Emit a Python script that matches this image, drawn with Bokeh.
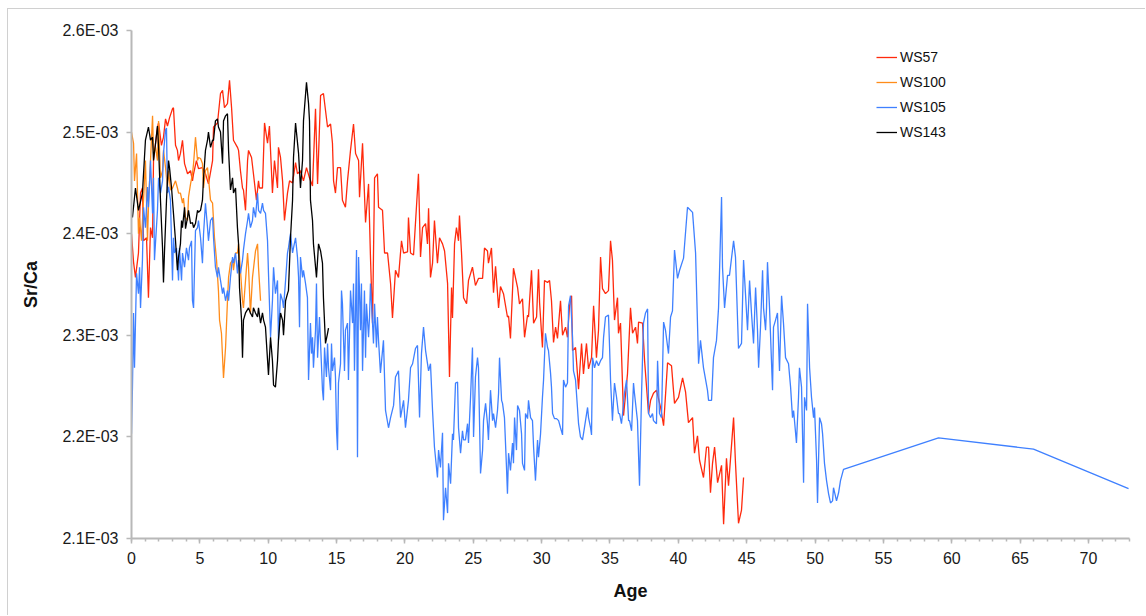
from bokeh.plotting import figure
from bokeh.models import (FixedTicker, CustomJSTickFormatter, Legend, LegendItem,
                          Range1d)
from bokeh.embed import file_html
from bokeh.resources import INLINE

# Sr/Ca values below are listed in units of 1e-3
SCALE = 1e-3

# ---------------- WS57 ----------------
ws57_age = [
    0.00, 0.15, 0.29, 0.51, 0.66, 0.80, 0.88, 1.10, 1.24, 1.39,
    1.54, 1.61, 1.90, 1.98, 2.19, 2.34, 2.49, 2.63, 2.78, 3.00,
    3.07, 3.22, 3.36, 3.44, 3.58, 3.73, 3.88, 4.10, 4.32, 4.46,
    4.54, 4.75, 4.90, 5.19, 5.41, 5.63, 5.93, 6.00, 6.29, 6.51,
    6.66, 6.80, 7.02, 7.17, 7.32, 7.46, 7.75, 7.83, 7.97, 8.12,
    8.19, 8.34, 8.49, 8.56, 8.78, 8.92, 9.14, 9.29, 9.36, 9.58,
    9.73, 9.95, 10.09, 10.31, 10.46, 10.68, 10.75, 10.90, 11.05, 11.19,
    11.41, 11.56, 11.78, 12.00, 12.14, 12.36, 12.58, 12.80, 13.02, 13.24,
    13.46, 13.61, 13.83, 14.04, 14.34, 14.56, 14.70, 14.78, 14.92, 15.07,
    15.29, 15.43, 15.65, 15.80, 16.02, 16.24, 16.39, 16.61, 16.68, 16.90,
    17.12, 17.34, 17.48, 17.63, 17.78, 17.99, 18.07, 18.36, 18.51, 18.73,
    18.95, 19.09, 19.31, 19.53, 19.75, 19.90, 20.19, 20.26, 20.41, 20.63,
    20.99, 21.14, 21.29, 21.51, 21.65, 21.73, 21.87, 22.02, 22.16, 22.38,
    22.53, 22.75, 22.90, 23.12, 23.26, 23.41, 23.48, 23.63, 23.77, 23.92,
    23.99, 24.14, 24.29, 24.51, 24.65, 24.94, 25.16, 25.38, 25.68, 25.82,
    26.04, 26.11, 26.33, 26.48, 26.63, 26.85, 26.99, 27.21, 27.50, 27.58,
    27.72, 27.94, 28.24, 28.38, 28.60, 28.75, 28.97, 29.04, 29.26, 29.41,
    29.63, 29.77, 29.85, 30.06, 30.21, 30.43, 30.58, 30.72, 30.87, 31.02,
    31.16, 31.38, 31.53, 31.75, 31.89, 32.04, 32.19, 32.26, 32.48, 32.70,
    32.92, 33.06, 33.28, 33.43, 33.65, 33.80, 34.01, 34.16, 34.31, 34.45,
    34.67, 34.89, 35.04, 35.18, 35.33, 35.55, 35.62, 35.77, 35.99, 36.28,
    36.50, 36.65, 36.87, 37.01, 37.09, 37.38, 37.53, 37.82, 37.97, 38.18,
    38.40, 38.70, 38.92, 39.21, 39.50, 39.72, 40.01, 40.31, 40.53, 40.74,
    41.04, 41.18, 41.40, 41.55, 41.84, 42.06, 42.21, 42.35, 42.50, 42.65,
    42.87, 43.16, 43.31, 43.52, 43.67, 44.04, 44.18, 44.40, 44.62, 44.77,
]
ws57_srca = [
    2.400, 2.372, 2.357, 2.381, 2.440, 2.445, 2.393, 2.396, 2.337, 2.406,
    2.396, 2.472, 2.505, 2.509, 2.487, 2.495, 2.513, 2.506, 2.514, 2.523,
    2.524, 2.487, 2.482, 2.472, 2.479, 2.492, 2.469, 2.459, 2.462, 2.452,
    2.459, 2.472, 2.464, 2.465, 2.459, 2.449, 2.472, 2.505, 2.509, 2.538,
    2.541, 2.524, 2.528, 2.551, 2.524, 2.492, 2.485, 2.482, 2.462, 2.445,
    2.443, 2.423, 2.472, 2.482, 2.475, 2.459, 2.433, 2.452, 2.445, 2.445,
    2.509, 2.489, 2.506, 2.440, 2.472, 2.445, 2.485, 2.475, 2.452, 2.413,
    2.440, 2.452, 2.450, 2.470, 2.459, 2.462, 2.452, 2.465, 2.455, 2.447,
    2.523, 2.449, 2.536, 2.538, 2.505, 2.508, 2.489, 2.452, 2.440, 2.465,
    2.465, 2.433, 2.426, 2.452, 2.482, 2.508, 2.479, 2.472, 2.436, 2.489,
    2.411, 2.449, 2.377, 2.312, 2.455, 2.459, 2.426, 2.423, 2.381, 2.381,
    2.351, 2.317, 2.364, 2.357, 2.393, 2.381, 2.382, 2.416, 2.381, 2.379,
    2.459, 2.377, 2.406, 2.410, 2.390, 2.425, 2.357, 2.371, 2.413, 2.371,
    2.396, 2.390, 2.383, 2.351, 2.259, 2.347, 2.317, 2.390, 2.406, 2.393,
    2.418, 2.381, 2.337, 2.331, 2.354, 2.367, 2.349, 2.356, 2.356, 2.386,
    2.383, 2.371, 2.386, 2.342, 2.368, 2.327, 2.348, 2.341, 2.318, 2.319,
    2.297, 2.366, 2.347, 2.331, 2.336, 2.298, 2.320, 2.318, 2.364, 2.312,
    2.318, 2.365, 2.332, 2.288, 2.354, 2.352, 2.354, 2.334, 2.293, 2.308,
    2.297, 2.334, 2.300, 2.308, 2.298, 2.329, 2.339, 2.285, 2.288, 2.247,
    2.292, 2.262, 2.292, 2.267, 2.278, 2.329, 2.278, 2.305, 2.377, 2.346,
    2.341, 2.344, 2.393, 2.374, 2.315, 2.337, 2.302, 2.312, 2.221, 2.262,
    2.327, 2.302, 2.308, 2.292, 2.313, 2.312, 2.275, 2.223, 2.236, 2.243,
    2.246, 2.229, 2.211, 2.273, 2.270, 2.233, 2.239, 2.258, 2.244, 2.214,
    2.219, 2.184, 2.201, 2.177, 2.160, 2.190, 2.190, 2.145, 2.174, 2.190,
    2.155, 2.172, 2.114, 2.179, 2.152, 2.219, 2.174, 2.115, 2.128, 2.160,
]

# ---------------- WS100 ----------------
ws100_age = [
    0.00, 0.15, 0.22, 0.37, 0.51, 0.59, 0.73, 0.88, 1.02, 1.17,
    1.24, 1.39, 1.54, 1.61, 1.76, 1.90, 1.98, 2.12, 2.27, 2.34,
    2.49, 2.63, 2.71, 2.85, 3.00, 3.22, 3.36, 3.44, 3.58, 3.73,
    3.80, 3.95, 4.10, 4.17, 4.32, 4.46, 4.54, 4.68, 4.83, 4.90,
    5.05, 5.19, 5.27, 5.41, 5.56, 5.78, 5.93, 6.07, 6.22, 6.36,
    6.44, 6.58, 6.73, 6.88, 7.02, 7.10, 7.24, 7.39, 7.46, 7.61,
    7.75, 7.83, 7.97, 8.12, 8.19, 8.34, 8.49, 8.56, 8.70, 8.85,
    9.07, 9.22, 9.29, 9.44,
]
ws100_srca = [
    2.500, 2.489, 2.452, 2.479, 2.400, 2.416, 2.393, 2.433, 2.472, 2.393,
    2.426, 2.472, 2.516, 2.479, 2.485, 2.472, 2.511, 2.455, 2.462, 2.482,
    2.465, 2.445, 2.462, 2.443, 2.445, 2.452, 2.445, 2.440, 2.440, 2.430,
    2.435, 2.416, 2.413, 2.436, 2.449, 2.459, 2.469, 2.495, 2.472, 2.475,
    2.474, 2.469, 2.445, 2.462, 2.465, 2.433, 2.430, 2.396, 2.374, 2.344,
    2.315, 2.302, 2.258, 2.288, 2.334, 2.357, 2.371, 2.374, 2.364, 2.381,
    2.381, 2.390, 2.364, 2.334, 2.327, 2.354, 2.381, 2.367, 2.321, 2.357,
    2.383, 2.390, 2.367, 2.334,
]

# ---------------- WS105 ----------------
ws105_age = [
    0.00, 0.07, 0.15, 0.22, 0.37, 0.51, 0.59, 0.66, 0.80, 0.88,
    1.02, 1.17, 1.24, 1.39, 1.54, 1.61, 1.68, 1.90, 1.98, 2.12,
    2.27, 2.34, 2.49, 2.56, 2.63, 2.71, 2.85, 3.00, 3.07, 3.15,
    3.29, 3.44, 3.51, 3.66, 3.73, 3.88, 4.02, 4.17, 4.24, 4.39,
    4.46, 4.54, 4.68, 4.83, 4.90, 5.05, 5.19, 5.27, 5.41, 5.56,
    5.63, 5.78, 5.93, 6.00, 6.14, 6.29, 6.36, 6.51, 6.66, 6.73,
    6.88, 7.02, 7.10, 7.24, 7.39, 7.46, 7.61, 7.75, 7.83, 7.97,
    8.12, 8.19, 8.34, 8.49, 8.56, 8.70, 8.85, 8.92, 9.07, 9.22,
    9.29, 9.44, 9.58, 9.66, 9.80, 9.95, 10.02, 10.17, 10.31, 10.39,
    10.53, 10.68, 10.75, 10.90, 11.05, 11.12, 11.27, 11.41, 11.48, 11.63,
    11.78, 11.85, 12.00, 12.14, 12.22, 12.29, 12.36, 12.51, 12.58, 12.73,
    12.87, 12.95, 13.09, 13.17, 13.24, 13.31, 13.46, 13.53, 13.61, 13.75,
    13.83, 13.97, 14.04, 14.12, 14.26, 14.34, 14.41, 14.56, 14.63, 14.70,
    14.85, 14.92, 15.00, 15.07, 15.14, 15.29, 15.36, 15.43, 15.58, 15.65,
    15.80, 15.87, 16.02, 16.17, 16.24, 16.31, 16.46, 16.53, 16.61, 16.75,
    16.82, 16.90, 17.04, 17.12, 17.19, 17.34, 17.41, 17.48, 17.63, 17.70,
    17.78, 17.92, 17.99, 18.07, 18.21, 18.43, 18.58, 18.80, 18.95, 19.17,
    19.31, 19.53, 19.68, 19.90, 20.04, 20.26, 20.41, 20.56, 20.77, 20.92,
    21.07, 21.21, 21.36, 21.51, 21.73, 21.87, 22.02, 22.16, 22.38, 22.46,
    22.60, 22.75, 22.82, 22.97, 23.12, 23.19, 23.34, 23.48, 23.55, 23.70,
    23.85, 23.92, 24.07, 24.21, 24.29, 24.43, 24.58, 24.65, 24.80, 24.94,
    25.02, 25.16, 25.31, 25.38, 25.53, 25.68, 25.75, 25.90, 26.04, 26.11,
    26.26, 26.41, 26.48, 26.63, 26.77, 26.85, 26.92, 27.07, 27.14, 27.28,
    27.43, 27.50, 27.58, 27.72, 27.87, 27.94, 28.02, 28.16, 28.24, 28.38,
    28.53, 28.60, 28.75, 28.82, 28.97, 29.04, 29.19, 29.33, 29.41, 29.55,
    29.70, 29.77, 29.92, 30.06, 30.14, 30.28, 30.43, 30.50, 30.65, 30.72,
    30.80, 30.94, 31.09, 31.24, 31.38, 31.53, 31.60, 31.75, 31.89, 31.97,
    32.11, 32.26, 32.33, 32.48, 32.62, 32.70, 32.84, 32.99, 33.06, 33.21,
    33.36, 33.43, 33.58, 33.65, 33.72, 33.87, 34.01, 34.16, 34.31, 34.45,
    34.53, 34.67, 34.89, 34.97, 35.04, 35.18, 35.33, 35.48, 35.62, 35.70,
    35.84, 35.92, 36.06, 36.21, 36.36, 36.43, 36.58, 36.72, 36.79, 37.01,
    37.16, 37.31, 37.45, 37.60, 37.75, 37.82, 37.97, 38.11, 38.18, 38.40,
    38.48, 38.62, 38.77, 38.92, 39.06, 39.28, 39.43, 39.57, 39.72, 39.94,
    40.09, 40.38, 40.67, 41.04, 41.26, 41.48, 41.62, 41.84, 42.13, 42.21,
    42.43, 42.57, 42.79, 42.94, 43.16, 43.23, 43.38, 43.60, 43.74, 44.04,
    44.18, 44.40, 44.62, 44.77, 44.91, 45.06, 45.21, 45.35, 45.50, 45.65,
    45.79, 45.87, 46.01, 46.16, 46.23, 46.38, 46.45, 46.52, 46.67, 46.89,
    46.96, 47.11, 47.25, 47.40, 47.55, 47.69, 47.84, 48.06, 48.21, 48.35,
    48.43, 48.64, 48.79, 48.86, 49.01, 49.16, 49.23, 49.38, 49.45, 49.60,
    49.74, 49.89, 49.96, 50.11, 50.18, 50.33, 50.47, 50.55, 50.69, 50.84,
    50.99, 51.13, 51.28, 51.35, 51.57, 51.72, 51.86, 52.08, 59.03, 65.98, 72.93,
]
ws105_srca = [
    2.203, 2.249, 2.322, 2.268, 2.361, 2.341, 2.367, 2.327, 2.374, 2.426,
    2.406, 2.446, 2.426, 2.472, 2.420, 2.455, 2.374, 2.423, 2.455, 2.440,
    2.452, 2.479, 2.502, 2.504, 2.440, 2.446, 2.433, 2.354, 2.396, 2.381,
    2.386, 2.354, 2.386, 2.354, 2.381, 2.367, 2.386, 2.374, 2.386, 2.393,
    2.334, 2.327, 2.403, 2.406, 2.413, 2.396, 2.371, 2.400, 2.430, 2.406,
    2.393, 2.413, 2.416, 2.396, 2.367, 2.357, 2.367, 2.354, 2.341, 2.347,
    2.334, 2.344, 2.334, 2.357, 2.377, 2.371, 2.381, 2.361, 2.374, 2.361,
    2.374, 2.384, 2.400, 2.413, 2.420, 2.406, 2.413, 2.426, 2.416, 2.440,
    2.423, 2.420, 2.430, 2.423, 2.420, 2.393, 2.361, 2.298, 2.334, 2.367,
    2.341, 2.354, 2.295, 2.341, 2.334, 2.327, 2.354, 2.381, 2.386, 2.400,
    2.381, 2.386, 2.396, 2.377, 2.357, 2.308, 2.377, 2.357, 2.364, 2.351,
    2.337, 2.256, 2.312, 2.282, 2.298, 2.268, 2.305, 2.351, 2.278, 2.318,
    2.292, 2.246, 2.236, 2.288, 2.259, 2.292, 2.268, 2.246, 2.292, 2.265,
    2.278, 2.259, 2.206, 2.187, 2.253, 2.272, 2.344, 2.331, 2.265, 2.305,
    2.312, 2.256, 2.344, 2.312, 2.351, 2.265, 2.384, 2.180, 2.377, 2.305,
    2.351, 2.265, 2.344, 2.278, 2.331, 2.298, 2.318, 2.351, 2.312, 2.292,
    2.331, 2.288, 2.318, 2.295, 2.263, 2.295, 2.226, 2.209, 2.219, 2.231,
    2.259, 2.265, 2.219, 2.236, 2.209, 2.236, 2.268, 2.272, 2.287, 2.290,
    2.219, 2.282, 2.308, 2.285, 2.265, 2.272, 2.226, 2.190, 2.160, 2.187,
    2.170, 2.204, 2.118, 2.150, 2.125, 2.174, 2.154, 2.203, 2.197, 2.253,
    2.254, 2.209, 2.184, 2.206, 2.197, 2.197, 2.213, 2.194, 2.239, 2.288,
    2.200, 2.259, 2.278, 2.268, 2.164, 2.187, 2.216, 2.233, 2.213, 2.197,
    2.246, 2.216, 2.223, 2.209, 2.226, 2.243, 2.278, 2.236, 2.233, 2.219,
    2.170, 2.144, 2.184, 2.167, 2.194, 2.174, 2.219, 2.187, 2.231, 2.226,
    2.203, 2.174, 2.167, 2.223, 2.218, 2.236, 2.219, 2.216, 2.190, 2.157,
    2.197, 2.180, 2.203, 2.239, 2.256, 2.302, 2.288, 2.285, 2.263, 2.249,
    2.223, 2.218, 2.218, 2.216, 2.209, 2.202, 2.256, 2.249, 2.253, 2.329,
    2.339, 2.298, 2.265, 2.256, 2.229, 2.213, 2.200, 2.197, 2.203, 2.216,
    2.229, 2.219, 2.209, 2.202, 2.278, 2.268, 2.275, 2.270, 2.275, 2.278,
    2.298, 2.318, 2.320, 2.288, 2.256, 2.216, 2.253, 2.239, 2.223, 2.223,
    2.213, 2.223, 2.243, 2.256, 2.216, 2.216, 2.206, 2.253, 2.243, 2.216,
    2.152, 2.243, 2.312, 2.322, 2.326, 2.223, 2.219, 2.223, 2.216, 2.213,
    2.275, 2.223, 2.219, 2.313, 2.305, 2.282, 2.318, 2.324, 2.384, 2.356,
    2.364, 2.376, 2.426, 2.421, 2.381, 2.272, 2.295, 2.268, 2.246, 2.236,
    2.236, 2.278, 2.295, 2.327, 2.436, 2.367, 2.327, 2.359, 2.359, 2.393,
    2.377, 2.287, 2.292, 2.374, 2.341, 2.305, 2.354, 2.322, 2.292, 2.347,
    2.305, 2.268, 2.308, 2.364, 2.327, 2.305, 2.327, 2.372, 2.327, 2.246,
    2.308, 2.315, 2.322, 2.265, 2.339, 2.312, 2.278, 2.272, 2.249, 2.219,
    2.226, 2.194, 2.239, 2.268, 2.249, 2.155, 2.239, 2.226, 2.331, 2.268,
    2.239, 2.219, 2.229, 2.177, 2.135, 2.219, 2.213, 2.203, 2.174, 2.157,
    2.144, 2.135, 2.137, 2.150, 2.137, 2.145, 2.157, 2.168, 2.199, 2.188, 2.149,
]

# ---------------- WS143 ----------------
ws143_age = [
    0.07, 0.29, 0.51, 0.80, 1.02, 1.24, 1.39, 1.54, 1.61, 1.76,
    1.90, 1.98, 2.12, 2.27, 2.34, 2.41, 2.56, 2.71, 2.78, 2.93,
    3.07, 3.22, 3.36, 3.44, 3.58, 3.66, 3.73, 3.88, 3.95, 4.10,
    4.17, 4.32, 4.46, 4.54, 4.68, 4.83, 4.90, 5.05, 5.19, 5.27,
    5.41, 5.56, 5.63, 5.78, 5.93, 6.00, 6.14, 6.29, 6.36, 6.51,
    6.66, 6.73, 6.88, 7.02, 7.10, 7.24, 7.39, 7.46, 7.61, 7.75,
    7.83, 7.90, 8.05, 8.12, 8.19, 8.34, 8.56, 8.70, 8.85, 8.92,
    9.07, 9.22, 9.29, 9.44, 9.58, 9.66, 9.80, 10.02, 10.17, 10.31,
    10.39, 10.53, 10.68, 10.75, 10.90, 11.05, 11.12, 11.27, 11.41, 11.48,
    11.63, 11.78, 11.85, 12.00, 12.22, 12.36, 12.51, 12.58, 12.80, 12.95,
    13.02, 13.09, 13.24, 13.31, 13.53, 13.61, 13.68, 13.83, 13.97, 14.04,
    14.19, 14.34, 14.41,
]
ws143_srca = [
    2.416, 2.445, 2.423, 2.440, 2.492, 2.505, 2.492, 2.495, 2.472, 2.489,
    2.506, 2.485, 2.433, 2.386, 2.352, 2.381, 2.433, 2.472, 2.465, 2.445,
    2.420, 2.393, 2.364, 2.377, 2.390, 2.413, 2.406, 2.426, 2.405, 2.416,
    2.423, 2.410, 2.411, 2.406, 2.410, 2.423, 2.421, 2.423, 2.433, 2.455,
    2.482, 2.492, 2.500, 2.485, 2.492, 2.492, 2.511, 2.513, 2.505, 2.500,
    2.469, 2.511, 2.516, 2.518, 2.482, 2.443, 2.455, 2.440, 2.445, 2.406,
    2.390, 2.347, 2.315, 2.278, 2.315, 2.322, 2.327, 2.322, 2.318, 2.327,
    2.322, 2.318, 2.327, 2.312, 2.322, 2.315, 2.308, 2.261, 2.298, 2.275,
    2.251, 2.249, 2.275, 2.295, 2.322, 2.315, 2.300, 2.334, 2.341, 2.344,
    2.396, 2.433, 2.475, 2.509, 2.479, 2.445, 2.472, 2.511, 2.549, 2.528,
    2.511, 2.433, 2.413, 2.390, 2.357, 2.374, 2.390, 2.383, 2.371, 2.337,
    2.292, 2.302, 2.307,
]

series_names = ["WS57", "WS100", "WS105", "WS143"]
series_colors = ["#FF2A0D", "#FF8C1A", "#3F80FF", "#000000"]
series_ages = [ws57_age, ws100_age, ws105_age, ws143_age]
series_vals = [ws57_srca, ws100_srca, ws105_srca, ws143_srca]

x_ticks = list(range(0, 75, 5))
x_minor = list(range(0, 74))
y_ticks = [2.1e-3, 2.2e-3, 2.3e-3, 2.4e-3, 2.5e-3, 2.6e-3]

# chart area sits inside a thin light-grey border, offset from the page corner
p = figure(width=1138, height=607, output_backend="svg", toolbar_location=None,
           x_range=Range1d(0, 73), y_range=Range1d(2.1e-3, 2.6e-3),
           min_border_left=123, min_border_right=17,
           min_border_top=21, min_border_bottom=78,
           margin=(8, 0, 0, 7),
           styles={"border-left": "1px solid #d0d0d0",
                   "border-top": "1px solid #d0d0d0"})

p.outline_line_color = None
p.grid.visible = False
p.background_fill_color = "white"
p.border_fill_color = "white"

renderers = []
for name, color, ages, vals in zip(series_names, series_colors, series_ages, series_vals):
    r = p.line(list(ages), [v * SCALE for v in vals],
               line_color=color, line_width=1.3)
    renderers.append(r)

axis_color = "#b8b8b8"
tick_font = "Liberation Sans"

# x axis
p.xaxis.ticker = FixedTicker(ticks=x_ticks, minor_ticks=x_minor)
p.xaxis.axis_label = "Age"
p.xaxis.axis_line_color = axis_color
p.xaxis.axis_line_width = 2
p.xaxis.major_tick_line_color = axis_color
p.xaxis.major_tick_line_width = 1.5
p.xaxis.minor_tick_line_color = axis_color
p.xaxis.minor_tick_line_width = 1.5
p.xaxis.major_tick_in = 0
p.xaxis.major_tick_out = 5
p.xaxis.minor_tick_in = 0
p.xaxis.minor_tick_out = 3
p.xaxis.major_label_standoff = 8
p.xaxis.axis_label_standoff = 14

# y axis
p.yaxis.ticker = FixedTicker(ticks=y_ticks)
p.yaxis.formatter = CustomJSTickFormatter(
    code="return tick.toExponential(1).replace('e-3', 'E-03');")
p.yaxis.axis_label = "Sr/Ca"
p.yaxis.axis_line_color = axis_color
p.yaxis.axis_line_width = 2
p.yaxis.major_tick_line_color = axis_color
p.yaxis.major_tick_line_width = 1.5
p.yaxis.minor_tick_line_color = None
p.yaxis.major_tick_in = 0
p.yaxis.major_tick_out = 5
p.yaxis.major_label_standoff = 8
p.yaxis.axis_label_standoff = 18

for ax in (p.xaxis, p.yaxis):
    ax.major_label_text_font = tick_font
    ax.major_label_text_font_size = "16px"
    ax.major_label_text_color = "#1a1a1a"
    ax.axis_label_text_font = tick_font
    ax.axis_label_text_font_size = "18px"
    ax.axis_label_text_font_style = "bold"
    ax.axis_label_text_color = "#111111"

# legend
legend = Legend(items=[LegendItem(label=n, renderers=[r])
                       for n, r in zip(series_names, renderers)])
legend.location = (745, 396)
legend.padding = 0
legend.margin = 0
legend.spacing = 5
legend.glyph_width = 21
legend.glyph_height = 20
legend.label_height = 20
legend.label_standoff = 3
legend.label_text_font = tick_font
legend.label_text_font_size = "14px"
legend.label_text_color = "#111111"
legend.border_line_alpha = 0
legend.background_fill_alpha = 0
p.add_layout(legend)

open("out.html", "w").write(file_html(p, INLINE))
